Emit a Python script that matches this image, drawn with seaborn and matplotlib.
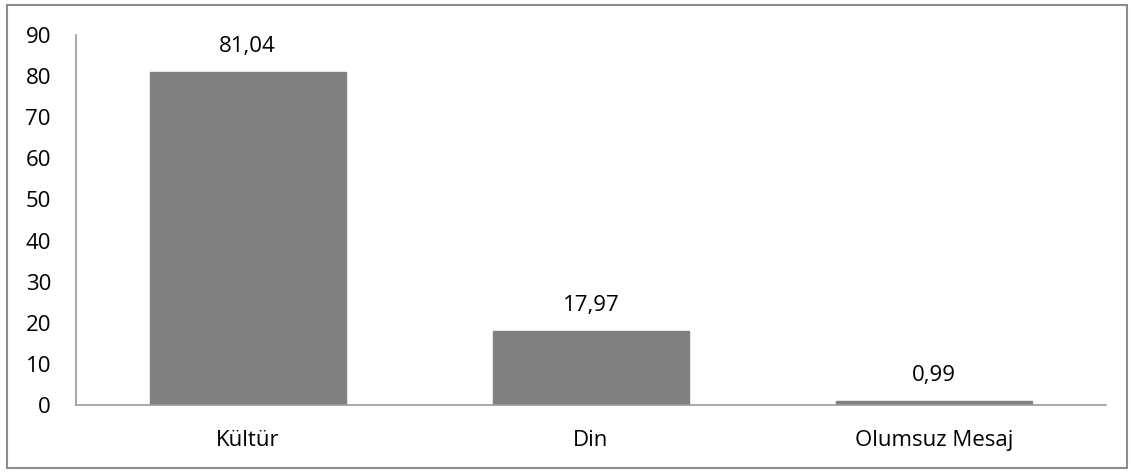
import matplotlib
matplotlib.use("Agg")
import matplotlib.pyplot as plt
import seaborn as sns
import pandas as pd

categories = ["Kültür", "Din", "Olumsuz Mesaj"]
values = [81.04, 17.97, 0.99]
value_labels = ["81,04", "17,97", "0,99"]
yticks = [0, 10, 20, 30, 40, 50, 60, 70, 80, 90]

sns.set_theme(style="white")
plt.rcParams["font.family"] = ["Open Sans", "DejaVu Sans"]

df = pd.DataFrame({"kategori": categories, "deger": values})

fig = plt.figure(figsize=(11.34, 4.74), dpi=100)
ax = fig.add_axes([76 / 1134, 1 - 405 / 474, (1106 - 76) / 1134, (405 - 35) / 474])

sns.barplot(data=df, x="kategori", y="deger", color="#808080", saturation=1,
            width=0.57, ax=ax, edgecolor="#808080")

for i, (v, lab) in enumerate(zip(values, value_labels)):
    ax.text(i, v + 3.6, lab, ha="center", va="bottom", fontsize=16, color="#000000")

ax.set_ylim(0, 90)
ax.set_yticks(yticks)
ax.set_yticklabels([str(t) for t in yticks], fontsize=16, color="#000000")
ax.tick_params(axis="x", labelsize=16, colors="#000000", pad=18, length=0)
ax.tick_params(axis="y", pad=18, length=0)
ax.set_xlabel("")
ax.set_ylabel("")
ax.set_xlim(-0.5, 2.5)

for side in ["top", "right"]:
    ax.spines[side].set_visible(False)
for side in ["left", "bottom"]:
    ax.spines[side].set_color("#9a9a9a")
    ax.spines[side].set_linewidth(1.2)

# outer chart frame
frame = plt.Rectangle((7 / 1134, 1 - 468 / 474), (1127 - 7) / 1134, (468 - 5) / 474,
                      transform=fig.transFigure, fill=False, edgecolor="#8c8c8c",
                      linewidth=1.5)
fig.patches.append(frame)

fig.savefig("out.png", dpi=100, facecolor="white")
